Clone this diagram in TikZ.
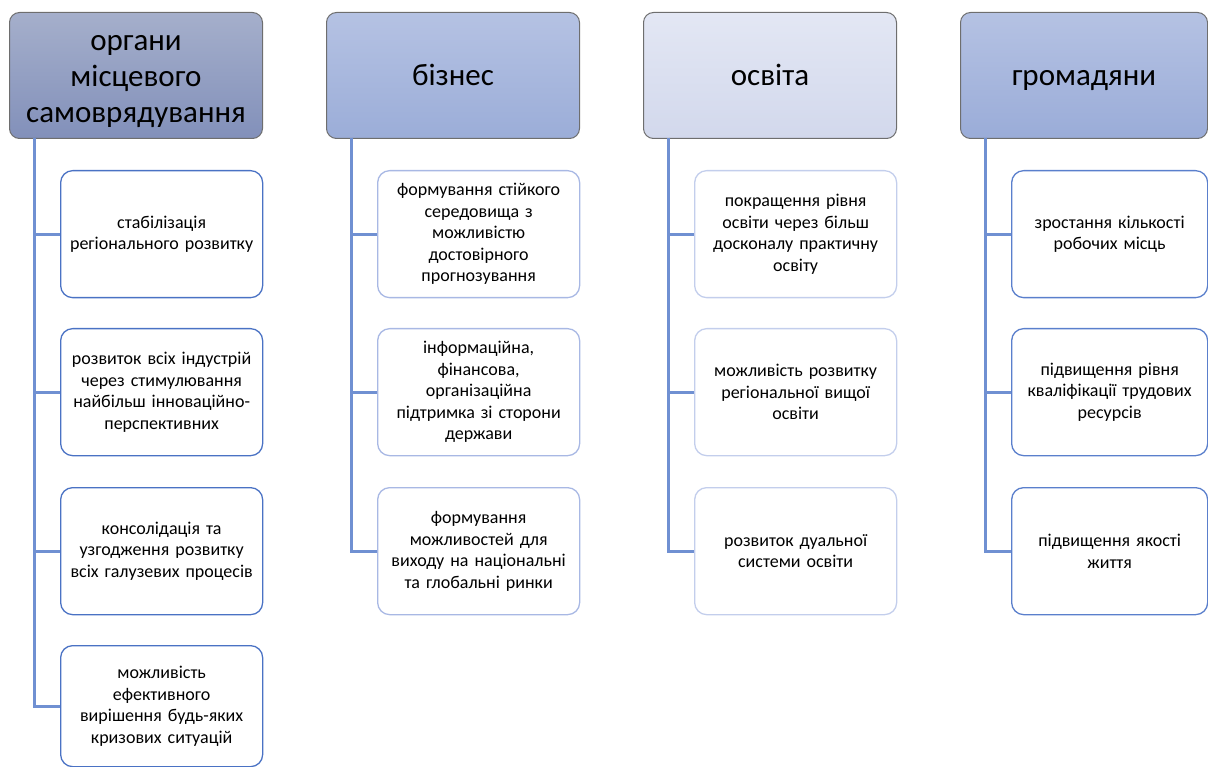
\documentclass[tikz,border=0pt]{standalone}
\usepackage{fontspec}
\setmainfont{Carlito}
\definecolor{linkc}{HTML}{7090D2}
\definecolor{bA}{HTML}{4A72C4}
\definecolor{bB}{HTML}{A8B8E4}
\definecolor{bC}{HTML}{C3CEEC}
\definecolor{bD}{HTML}{5A7FCC}
\definecolor{hAt}{HTML}{A5AFCB}
\definecolor{hAb}{HTML}{8290BA}
\definecolor{hBt}{HTML}{B5C2E3}
\definecolor{hBb}{HTML}{9BADD8}
\definecolor{hCt}{HTML}{E3E7F4}
\definecolor{hCb}{HTML}{D2D8EC}
\definecolor{hDt}{HTML}{B5C2E3}
\definecolor{hDb}{HTML}{9AACD8}
\definecolor{hbord}{HTML}{6E6E6E}
\begin{document}
\begin{tikzpicture}[x=1pt,y=-1pt,
  hdr/.style={draw=hbord, line width=1pt, rounded corners=10pt, anchor=north west,
     minimum width=253pt, minimum height=126pt, align=center,
     font=\fontsize{31}{36}\selectfont, inner sep=0pt},
  kid/.style={line width=1.3pt, rounded corners=12pt, anchor=north west,
     minimum width=202pt, minimum height=127pt, text width=200pt, align=center,
     font=\fontsize{18}{21.5}\selectfont, inner sep=0pt, fill=white},
  conn/.style={draw=linkc, line width=3pt},
]
\useasboundingbox (0,0) rectangle (1208,767);

% headers
\node[hdr, top color=hAt, bottom color=hAb] (h1) at (9,12) {\raisebox{-4pt}[\height][\depth]{\begin{tabular}{@{}c@{}}органи\\місцевого\\самоврядування\end{tabular}}};
\node[hdr, top color=hBt, bottom color=hBb] (h2) at (326,12) {\raisebox{-3pt}[\height][\depth]{\strut бізнес}};
\node[hdr, top color=hCt, bottom color=hCb] (h3) at (643,12) {\raisebox{-3pt}[\height][\depth]{\strut освіта}};
\node[hdr, minimum width=247pt, top color=hDt, bottom color=hDb] (h4) at (960,12) {\raisebox{-3pt}[\height][\depth]{\strut громадяни}};

% column 1
\node[kid, draw=bA] (a1) at (60,170) {стабілізація\\регіонального розвитку};
\node[kid, draw=bA] (a2) at (60,328) {розвиток всіх індустрій\\через стимулювання\\найбільш інноваційно-\\перспективних};
\node[kid, draw=bA] (a3) at (60,487) {консолідація та\\узгодження розвитку\\всіх галузевих процесів};
\node[kid, draw=bA, minimum height=121pt] (a4) at (60,645) {можливість\\ефективного\\вирішення будь-яких\\кризових ситуацій};

% column 2
\node[kid, draw=bB] (b1) at (377,170) {формування стійкого\\середовища з\\можливістю\\достовірного\\прогнозування};
\node[kid, draw=bB] (b2) at (377,328) {інформаційна,\\фінансова,\\організаційна\\підтримка зі сторони\\держави};
\node[kid, draw=bB] (b3) at (377,487) {формування\\можливостей для\\виходу на національні\\та глобальні ринки};

% column 3
\node[kid, draw=bC] (c1) at (694,170) {покращення рівня\\освіти через більш\\досконалу практичну\\освіту};
\node[kid, draw=bC] (c2) at (694,328) {можливість розвитку\\регіональної вищої\\освіти};
\node[kid, draw=bC] (c3) at (694,487) {розвиток дуальної\\системи освіти};

% column 4
\node[kid, draw=bD, minimum width=196pt, text width=194pt] (d1) at (1011,170) {зростання кількості\\робочих місць};
\node[kid, draw=bD, minimum width=196pt, text width=194pt] (d2) at (1011,328) {підвищення рівня\\кваліфікації трудових\\ресурсів};
\node[kid, draw=bD, minimum width=196pt, text width=194pt] (d3) at (1011,487) {підвищення якості\\життя};

% connectors
\coordinate (s1) at (34,138);
\coordinate (s2) at (351,138);
\coordinate (s3) at (668,138);
\coordinate (s4) at (985,138);
\foreach \s/\k in {s1/a1,s1/a2,s1/a3,s1/a4,s2/b1,s2/b2,s2/b3,s3/c1,s3/c2,s3/c3,s4/d1,s4/d2,s4/d3}
  \draw[conn] (\s) |- (\k.west);
\end{tikzpicture}
\end{document}
